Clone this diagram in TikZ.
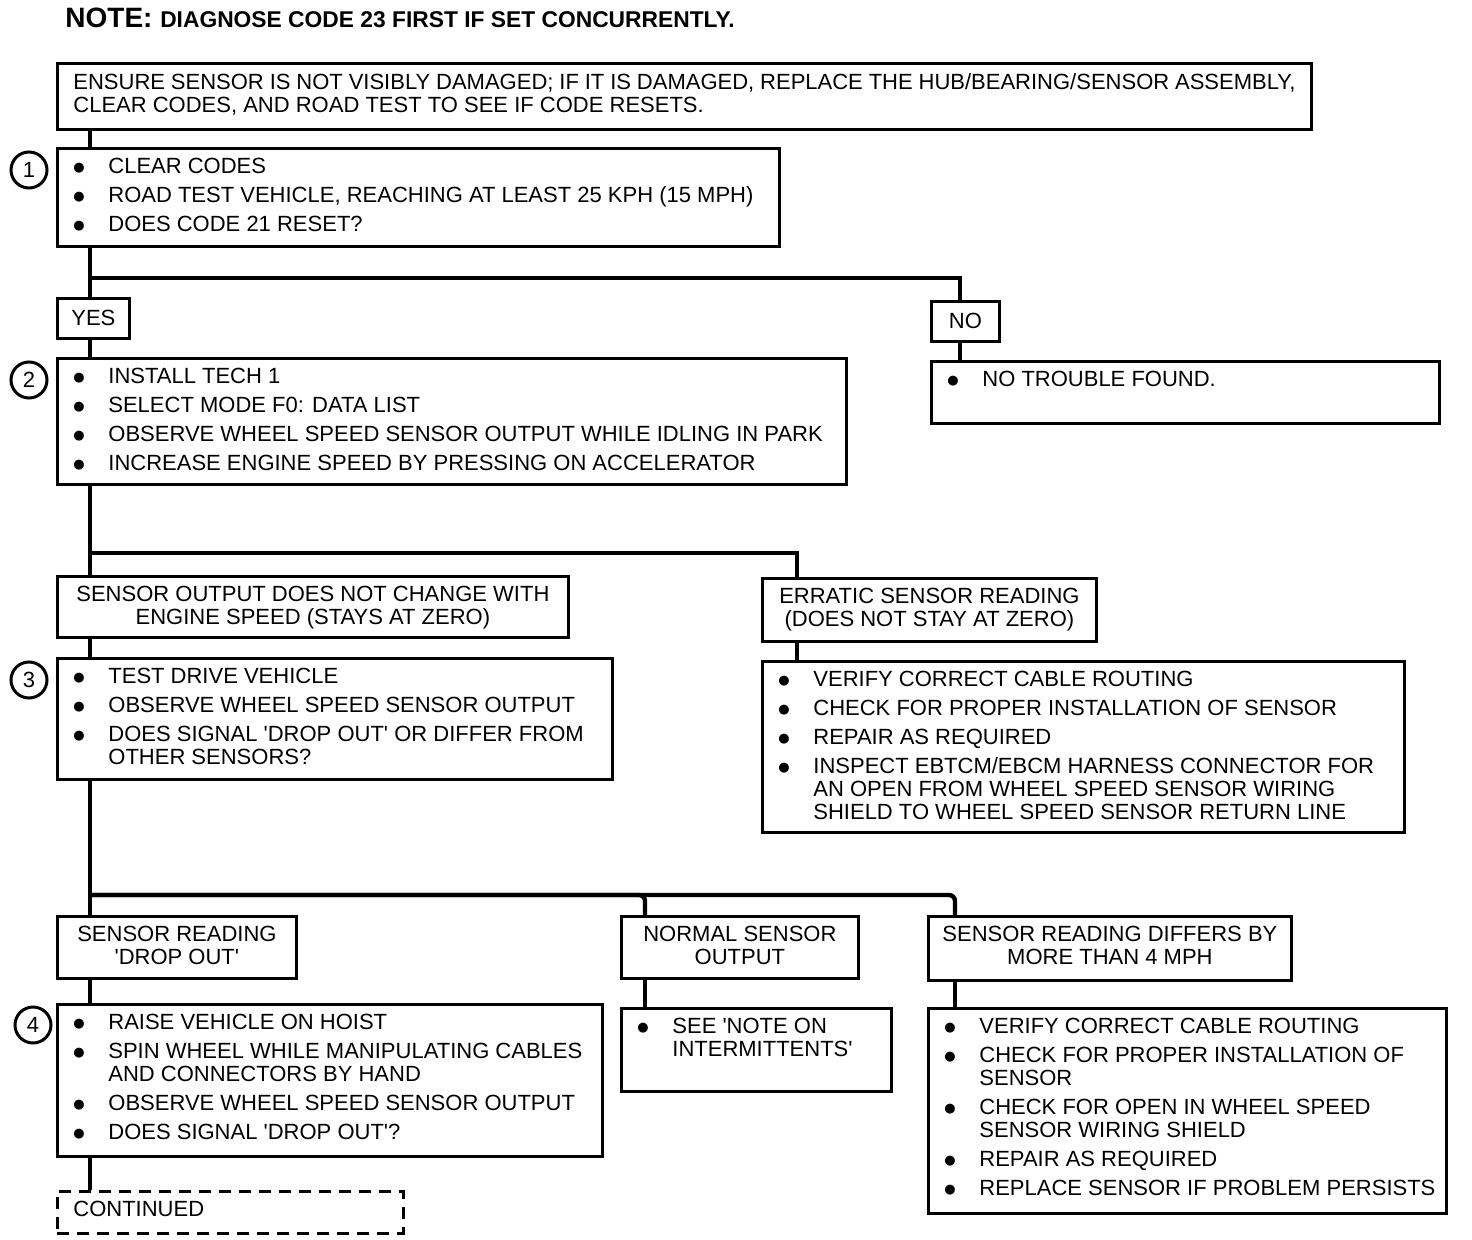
\documentclass[tikz,border=0pt]{standalone}
\usepackage{fontspec}
\setmainfont{Liberation Sans}
\newfontfamily\diag{Liberation Sans}
\newfontfamily\diagbold{Liberation Sans Bold}
\newfontfamily\dotfont{DejaVu Sans}
\usetikzlibrary{positioning}

% box text: width and height in pixels of the reference
\newcommand{\boxfont}{\diag\fontsize{11}{11.5}\selectfont\raggedright}
\newcommand{\panel}[3]{\parbox[t][\dimexpr#2pt/2-10pt\relax][t]{\dimexpr#1pt/2-16pt\relax}{\boxfont#3}}
\newcommand{\headpanel}[3]{\panel{#1}{#2}{\leftskip=-6pt plus 1fil\rightskip=-6pt plus 1fil\parfillskip=0pt\relax#3}}
\newcommand{\steplist}[3]{\panel{#1}{#2}{\setlength{\parskip}{3pt}\rightskip=-7pt plus 1fil #3}}
\newcommand{\dotmark}{\smash{\raisebox{1.2pt}{\dotfont\fontsize{6.5}{6.5}\selectfont ●}}}
\newcommand{\bitem}[1]{\par\hangindent=17.5pt\hangafter=1\noindent\makebox[17.5pt][l]{\dotmark}#1}

\begin{document}
\begin{tikzpicture}[x=0.5pt,y=-0.5pt]
\tikzset{stepbox/.style={draw, line width=1.4pt, anchor=north west, inner xsep=8pt, inner ysep=5pt},
  tag/.style={draw, line width=1.4pt, anchor=north west, inner sep=0pt, minimum width=34pt, minimum height=20pt, font=\diag\fontsize{11}{11}\selectfont},
  num/.style={draw, circle, line width=1.5pt, minimum size=18pt, inner sep=0pt, font=\diag\fontsize{11}{11}\selectfont},
  link/.style={line width=2.2pt}}
\useasboundingbox (0,0) rectangle (1472,1240);

\node[anchor=base west, inner sep=0pt, font=\diagbold] (note) at (65,28)
  {\fontsize{14}{14}\selectfont NOTE: \fontsize{11.4}{11.4}\selectfont DIAGNOSE CODE 23 FIRST IF SET CONCURRENTLY.};

\node[stepbox] (top) at (56,62) {\panel{1254}{66}{ENSURE SENSOR IS NOT VISIBLY DAMAGED; IF IT IS DAMAGED, REPLACE THE HUB/BEARING/SENSOR ASSEMBLY,\\CLEAR CODES, AND ROAD TEST TO SEE IF CODE RESETS.}};

% step 1
\node[num] (n1) at (29,170) {1};
\node[stepbox] (b1) at (56,147) {\steplist{722}{98}{%
  \bitem{CLEAR CODES}
  \bitem{ROAD TEST VEHICLE, REACHING AT LEAST 25 KPH (15 MPH)}
  \bitem{DOES CODE 21 RESET?}}};
\node[tag, minimum width=36pt] (yes) at (56,297) {YES};
\node[tag] (no) at (930,300) {NO};
\node[stepbox] (nof) at (930,360) {\steplist{508}{62}{\bitem{NO TROUBLE FOUND.}}};

% step 2
\node[num] (n2) at (29,380) {2};
\node[stepbox] (b2) at (56,357) {\steplist{789}{126}{%
  \bitem{INSTALL TECH 1}
  \bitem{SELECT MODE F0: DATA LIST}
  \bitem{OBSERVE WHEEL SPEED SENSOR OUTPUT WHILE IDLING IN PARK}
  \bitem{INCREASE ENGINE SPEED BY PRESSING ON ACCELERATOR}}};
\node[stepbox] (outA) at (56,575) {\headpanel{511}{61}{SENSOR OUTPUT DOES NOT CHANGE WITH\\ENGINE SPEED (STAYS AT ZERO)}};
\node[stepbox] (outB) at (761,577) {\headpanel{334}{63}{ERRATIC SENSOR READING\\(DOES NOT STAY AT ZERO)}};

% step 3
\node[num] (n3) at (29,680) {3};
\node[stepbox] (b3) at (56,657) {\steplist{555}{121}{%
  \bitem{TEST DRIVE VEHICLE}
  \bitem{OBSERVE WHEEL SPEED SENSOR OUTPUT}
  \bitem{DOES SIGNAL 'DROP OUT' OR DIFFER FROM\newline OTHER SENSORS?}}};
\node[stepbox] (bE) at (761,660) {\steplist{642}{171}{%
  \bitem{VERIFY CORRECT CABLE ROUTING}
  \bitem{CHECK FOR PROPER INSTALLATION OF SENSOR}
  \bitem{REPAIR AS REQUIRED}
  \bitem{INSPECT EBTCM/EBCM HARNESS CONNECTOR FOR\newline AN OPEN FROM WHEEL SPEED SENSOR WIRING\newline SHIELD TO WHEEL SPEED SENSOR RETURN LINE}}};
\node[stepbox] (rA) at (56,915) {\headpanel{239}{62}{SENSOR READING\\'DROP OUT'}};
\node[stepbox] (rB) at (620,915) {\headpanel{237}{62}{NORMAL SENSOR\\OUTPUT}};
\node[stepbox] (rC) at (927,915) {\headpanel{363}{64}{SENSOR READING DIFFERS BY\\MORE THAN 4 MPH}};

% step 4
\node[num] (n4) at (33,1025) {4};
\node[stepbox] (b4) at (56,1003) {\steplist{545}{152}{%
  \bitem{RAISE VEHICLE ON HOIST}
  \bitem{SPIN WHEEL WHILE MANIPULATING CABLES\newline AND CONNECTORS BY HAND}
  \bitem{OBSERVE WHEEL SPEED SENSOR OUTPUT}
  \bitem{DOES SIGNAL 'DROP OUT'?}}};
\node[stepbox] (bN) at (620,1007) {\steplist{270}{83}{\bitem{SEE 'NOTE ON\newline INTERMITTENTS'}}};
\node[stepbox] (bD) at (927,1007) {\steplist{518}{205}{%
  \bitem{VERIFY CORRECT CABLE ROUTING}
  \bitem{CHECK FOR PROPER INSTALLATION OF\newline SENSOR}
  \bitem{CHECK FOR OPEN IN WHEEL SPEED\newline SENSOR WIRING SHIELD}
  \bitem{REPAIR AS REQUIRED}
  \bitem{REPLACE SENSOR IF PROBLEM PERSISTS}}};
\node[stepbox, dash pattern=on 6pt off 4pt] (cont) at (56,1190) {\panel{346}{42}{CONTINUED}};

% connectors
\coordinate (j1) at (90,278);
\coordinate (j2) at (90,553);
\coordinate (j3) at (90,895);
\draw[link] ([xshift=17pt]top.south west) -- ([xshift=17pt]b1.north west);
\draw[link] ([xshift=17pt]b1.south west) -- ([xshift=17pt]yes.north west);
\draw[link] (j1) -| ([xshift=15pt]no.north west);
\draw[link] ([xshift=17pt]yes.south west) -- ([xshift=17pt]b2.north west);
\draw[link] ([xshift=15pt]no.south west) -- ([xshift=15pt]nof.north west);
\draw[link] ([xshift=17pt]b2.south west) -- ([xshift=17pt]outA.north west);
\draw[link] (j2) -| ([xshift=18pt]outB.north west);
\draw[link] ([xshift=17pt]outA.south west) -- ([xshift=17pt]b3.north west);
\draw[link] ([xshift=18pt]outB.south west) -- ([xshift=18pt]bE.north west);
\draw[link] ([xshift=17pt]b3.south west) -- ([xshift=17pt]rA.north west);
\draw[link, rounded corners=3pt] (j3) -| ([xshift=14pt]rC.north west);
\draw[link, rounded corners=3pt] ([xshift=12.5pt]rB.north west) |- (j3);
\draw[link] ([xshift=17pt]rA.south west) -- ([xshift=17pt]b4.north west);
\draw[link] ([xshift=12.5pt]rB.south west) -- ([xshift=12.5pt]bN.north west);
\draw[link] ([xshift=14pt]rC.south west) -- ([xshift=14pt]bD.north west);
\draw[link] ([xshift=17pt]b4.south west) -- ([xshift=17pt]cont.north west);
\end{tikzpicture}
\end{document}
